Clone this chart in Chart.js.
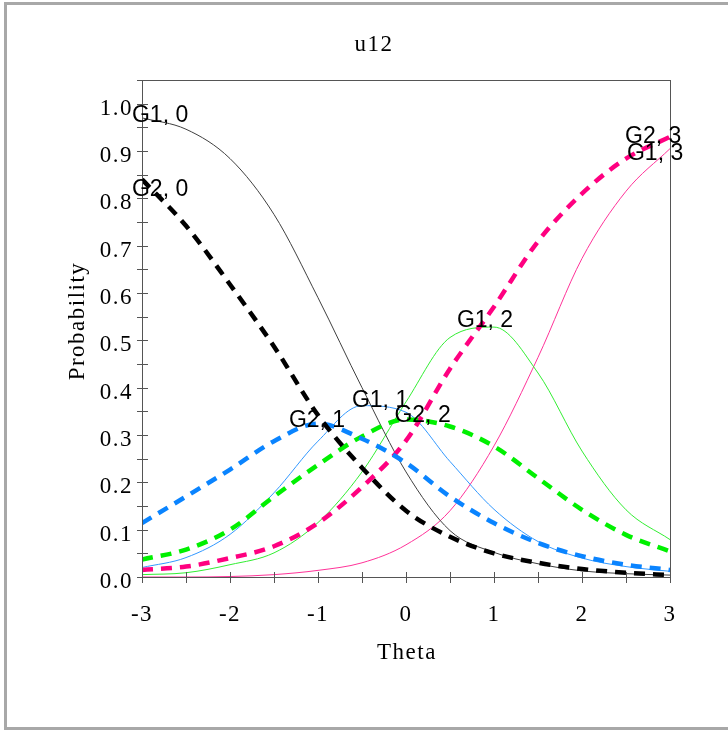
<!DOCTYPE html>
<html>

<head>
    <title>u12</title>
    <script src="https://cdn.jsdelivr.net/npm/chart.js"></script>
    <style>
        body { margin: 0; background: #fff; }
        #wrap { width: 728px; height: 732px; }
    </style>
</head>

<body>

    <div id="wrap">
        <canvas id="myChart" width="728" height="732"></canvas>
    </div>

    <script>
        // theta grid, values
        const theta = [-3, -2.5, -2, -1.5, -1, -0.5, 0, 0.5, 1, 1.5, 2, 2.5, 3];

        // group 1 (thin lines)
        const g1c0 = [0.970, 0.946, 0.884, 0.766, 0.590, 0.400, 0.222, 0.098, 0.052, 0.028, 0.013, 0.007, 0.004];
        const g1c1 = [0.020, 0.041, 0.090, 0.178, 0.287, 0.362, 0.348, 0.244, 0.143, 0.075, 0.040, 0.022, 0.012];
        const g1c2 = [0.005, 0.009, 0.026, 0.051, 0.115, 0.222, 0.370, 0.506, 0.528, 0.431, 0.266, 0.142, 0.079];
        const g1c3 = [0.000, 0.000, 0.001, 0.005, 0.014, 0.030, 0.068, 0.140, 0.277, 0.464, 0.673, 0.815, 0.905];

        // group 2 (thick dashed lines)
        const g2c0 = [0.840, 0.742, 0.618, 0.487, 0.342, 0.231, 0.140, 0.085, 0.050, 0.030, 0.017, 0.009, 0.004];
        const g2c1 = [0.114, 0.170, 0.227, 0.287, 0.324, 0.292, 0.241, 0.170, 0.114, 0.072, 0.044, 0.026, 0.015];
        const g2c2 = [0.037, 0.058, 0.100, 0.170, 0.237, 0.297, 0.333, 0.318, 0.276, 0.209, 0.142, 0.089, 0.054];
        const g2c3 = [0.015, 0.022, 0.040, 0.065, 0.114, 0.190, 0.288, 0.440, 0.571, 0.709, 0.810, 0.884, 0.930];

        const xTickLabels = ['-3', '-2', '-1', '0', '1', '2', '3'];
        const yTickLabels = ['0.0', '0.1', '0.2', '0.3', '0.4', '0.5', '0.6', '0.7', '0.8', '0.9', '1.0'];

        // where each curve name sits (theta, probability)
        const curveLabels = [
            { text: 'G1, 0', x: -3.114, y: 0.962, align: 'left' },
            { text: 'G2, 0', x: -3.114, y: 0.805, align: 'left' },
            { text: 'G2, 1', x: -1.011, y: 0.317, align: 'center' },
            { text: 'G1, 1', x: -0.295, y: 0.359, align: 'center' },
            { text: 'G2, 2', x: 0.188, y: 0.327, align: 'center' },
            { text: 'G1, 2', x: 0.898, y: 0.528, align: 'center' },
            { text: 'G2, 3', x: 2.489, y: 0.917, align: 'left' },
            { text: 'G1, 3', x: 2.511, y: 0.881, align: 'left' }
        ];

        const SERIF = "'Liberation Serif', 'Times New Roman', serif";
        const SANS = "'Liberation Sans', Arial, sans-serif";
        const AXIS = '#555';

        function curve(values, color, dashed) {
            return {
                data: values.map((v, i) => ({ x: theta[i], y: v })),
                borderColor: color,
                borderWidth: dashed ? 4.5 : 1,
                borderDash: dashed ? [11, 8] : [],
                pointRadius: 0,
                cubicInterpolationMode: 'monotone',
                fill: false
            };
        }

        const data = {
            datasets: [
                curve(g2c0, '#000000', true),
                curve(g2c1, '#0a84ff', true),
                curve(g2c2, '#00f000', true),
                curve(g2c3, '#ff0080', true),
                curve(g1c0, '#404040', false),
                curve(g1c1, '#3399ff', false),
                curve(g1c2, '#33ee33', false),
                curve(g1c3, '#ff3399', false)
            ]
        };

        // frame, plot box, crossing ticks, titles and curve names
        const decor = {
            id: 'decor',
            beforeDraw(chart) {
                const ctx = chart.ctx;
                ctx.save();
                ctx.fillStyle = '#fff';
                ctx.fillRect(0, 0, chart.width, chart.height);
                ctx.restore();
                ctx.letterSpacing = '1.5px';
            },
            afterDraw(chart) {
                const ctx = chart.ctx;
                const a = chart.chartArea;
                const xs = chart.scales.x, ys = chart.scales.y;
                ctx.save();

                // outer frame
                ctx.strokeStyle = '#a8a8a8';
                ctx.lineWidth = 3;
                ctx.strokeRect(5.5, 3.5, 800, 725);

                // plot box
                ctx.strokeStyle = AXIS;
                ctx.lineWidth = 1;
                ctx.strokeRect(a.left + 0.5, a.top + 0.5, a.right - a.left, a.bottom - a.top);

                // ticks crossing the axes
                ctx.beginPath();
                for (let i = 0; i <= 21; i++) {
                    const py = Math.round(ys.getPixelForValue(i * 0.05)) + 0.5;
                    ctx.moveTo(a.left - 5, py);
                    ctx.lineTo(a.left + 6, py);
                }
                for (let i = 0; i <= 12; i++) {
                    const px = Math.round(xs.getPixelForValue(-3 + i * 0.5)) + 0.5;
                    ctx.moveTo(px, a.bottom - 5);
                    ctx.lineTo(px, a.bottom + 6);
                }
                ctx.stroke();

                // titles
                ctx.fillStyle = '#000';
                ctx.font = '23px ' + SERIF;
                ctx.textAlign = 'center';
                ctx.textBaseline = 'middle';
                ctx.letterSpacing = '1.5px';
                ctx.fillText('u12', 374, 45);
                ctx.fillText('Theta', (a.left + a.right) / 2 + 1, 653);
                ctx.save();
                ctx.translate(78, 321);
                ctx.rotate(-Math.PI / 2);
                ctx.fillText('Probability', 0, 0);
                ctx.restore();

                // curve names
                ctx.font = '23px ' + SANS;
                ctx.letterSpacing = '0px';
                ctx.textBaseline = 'alphabetic';
                curveLabels.forEach(l => {
                    ctx.textAlign = l.align;
                    ctx.fillText(l.text, xs.getPixelForValue(l.x), ys.getPixelForValue(l.y));
                });
                ctx.restore();
            }
        };

        const config = {
            type: 'line',
            data: data,
            options: {
                responsive: false,
                animation: false,
                events: [],
                layout: {
                    padding: { top: 80, right: 58, left: 0, bottom: 0 }
                },
                plugins: {
                    legend: { display: false },
                    title: { display: false },
                    tooltip: { enabled: false }
                },
                scales: {
                    x: {
                        type: 'linear',
                        min: -3,
                        max: 3,
                        afterFit: s => { s.height = 155; },
                        grid: { drawOnChartArea: false, tickLength: 5, tickColor: 'rgba(0,0,0,0)' },
                        border: { display: false },
                        ticks: {
                            stepSize: 0.5,
                            autoSkip: false,
                            maxRotation: 0,
                            padding: 19,
                            color: '#000',
                            font: { family: SERIF, size: 23 },
                            callback: v => {
                                const k = Math.round(v * 2);
                                return k % 2 === 0 ? xTickLabels[k / 2 + 3] : '';
                            }
                        }
                    },
                    y: {
                        min: 0,
                        max: 1.05,
                        afterFit: s => { s.width = 142; },
                        grid: { drawOnChartArea: false, tickLength: 5, tickColor: 'rgba(0,0,0,0)' },
                        border: { display: false },
                        ticks: {
                            stepSize: 0.05,
                            autoSkip: false,
                            padding: 4,
                            labelOffset: 5,
                            color: '#000',
                            font: { family: SERIF, size: 23 },
                            callback: v => {
                                const k = Math.round(v * 20);
                                return (k % 2 === 0 && k <= 20) ? yTickLabels[k / 2] : '';
                            }
                        }
                    }
                }
            },
            plugins: [decor]
        };
    </script>

    <script>
        const myChart = new Chart(
            document.getElementById('myChart'),
            config
        );
    </script>

</body>

</html>
